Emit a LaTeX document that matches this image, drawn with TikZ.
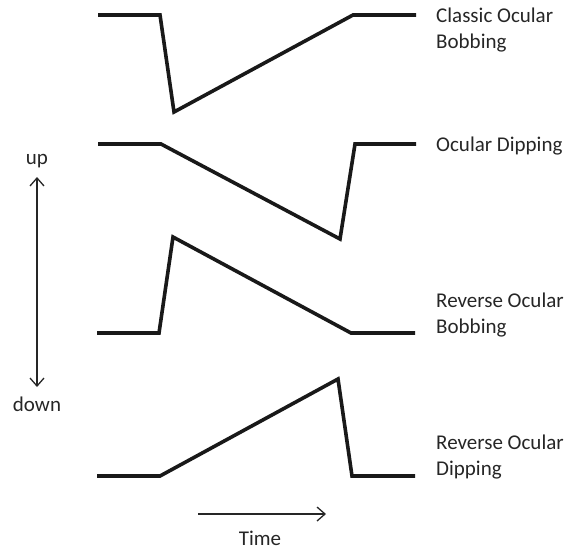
\documentclass[tikz,border=0pt]{standalone}
\usepackage{fontspec}
\setmainfont{Carlito}
\usetikzlibrary{arrows.meta}
\tikzset{
  trace/.style={line width=3.6pt, line join=miter, line cap=butt, black!90},
  axisarrow/.style={line width=1.3pt, black!85, {Straight Barb[length=8pt,width=14pt,line width=1.3pt]}-{Straight Barb[length=8pt,width=14pt,line width=1.3pt]}},
  timearrow/.style={line width=1.3pt, black!85, -{Straight Barb[length=8pt,width=14pt,line width=1.3pt]}},
  lbl/.style={anchor=west, inner sep=0pt, align=left, font=\fontsize{21}{25.5}\selectfont, text=black!85},
  axlbl/.style={inner sep=0pt, font=\fontsize{21}{25.5}\selectfont, text=black!85}
}
\begin{document}
\begin{tikzpicture}[x=1pt,y=-1pt]
\useasboundingbox (0,0) rectangle (577,550);
% trace 1: classic ocular bobbing
\coordinate (a1) at (98,15);
\coordinate (a2) at (160,15);
\coordinate (a3) at (174,112);
\coordinate (a4) at (353,15);
\coordinate (a5) at (416,15);
\draw[trace] (a1) -- (a2) -- (a3) -- (a4) -- (a5);
% trace 2: ocular dipping
\coordinate (b1) at (98,144);
\coordinate (b2) at (161,144);
\coordinate (b3) at (340,239);
\coordinate (b4) at (355,144);
\coordinate (b5) at (416,144);
\draw[trace] (b1) -- (b2) -- (b3) -- (b4) -- (b5);
% trace 3: reverse ocular bobbing
\coordinate (c1) at (97,333);
\coordinate (c2) at (159,333);
\coordinate (c3) at (173,237);
\coordinate (c4) at (351,333);
\coordinate (c5) at (415,333);
\draw[trace] (c1) -- (c2) -- (c3) -- (c4) -- (c5);
% trace 4: reverse ocular dipping
\coordinate (d1) at (97,476);
\coordinate (d2) at (160,476);
\coordinate (d3) at (338,379);
\coordinate (d4) at (352,476);
\coordinate (d5) at (415,476);
\draw[trace] (d1) -- (d2) -- (d3) -- (d4) -- (d5);
% labels
\node[lbl] (l1) at (436,30) {Classic Ocular\\Bobbing};
\node[lbl] (l2) at (436,146) {Ocular Dipping};
\node[lbl] (l3) at (436,315) {Reverse Ocular\\Bobbing};
\node[lbl] (l4) at (436,457) {Reverse Ocular\\Dipping};
% up/down axis
\node[axlbl] (up) at (37,161) {up};
\node[axlbl] (down) at (37,404) {down};
\coordinate (ut) at (37,177);
\coordinate (db) at (37,387);
\draw[axisarrow] (ut) -- (db);
% time axis
\coordinate (t1) at (198,514);
\coordinate (t2) at (326,514);
\draw[timearrow] (t1) -- (t2);
\node[axlbl] (time) at (260,538) {Time};
\end{tikzpicture}
\end{document}
